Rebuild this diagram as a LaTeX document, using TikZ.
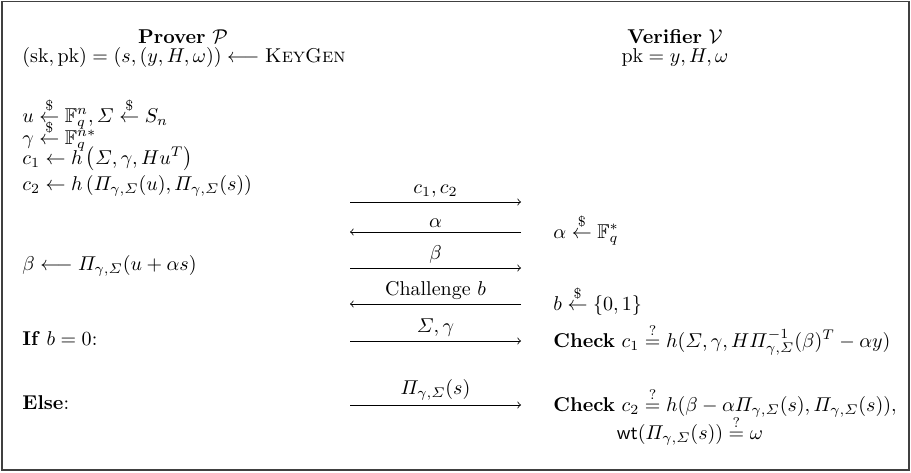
\documentclass[tikz,border=0pt]{standalone}
\usepackage{amsmath,amssymb}
\begin{document}
\begin{tikzpicture}[x=0.5pt,y=-0.5pt,
  txt/.style={inner sep=0pt, anchor=base west},
  ctr/.style={inner sep=0pt, anchor=base},
  msg/.style={->, line width=0.4pt},
  lbl/.style={inner sep=0pt, above=2pt},
  frame/.style={draw=black!75, line width=0.6pt}]
\useasboundingbox (0,0) rectangle (911,472);
\draw[frame] (2,1.5) rectangle (909,470);
% headers
\node[ctr] (prover) at (183,43) {\textbf{Prover} $\mathcal{P}$};
\node[txt] (keygen) at (22,62) {$(\mathrm{sk},\mathrm{pk}) = (s,(y,H,\omega)) \longleftarrow \textsc{KeyGen}$};
\node[ctr] (verifier) at (675,43) {\textbf{Verifier} $\mathcal{V}$};
\node[ctr] (pk) at (675,62) {$\mathrm{pk} = y, H, \omega$};
% prover side
\node[txt] (u) at (22,122) {$u \stackrel{\$}{\leftarrow} \mathbb{F}_q^n, \varSigma \stackrel{\$}{\leftarrow} S_n$};
\node[txt] (g) at (22,144) {$\gamma \stackrel{\$}{\leftarrow} \mathbb{F}_q^{n*}$};
\node[txt] (c1) at (22,164) {$c_1 \leftarrow h\left(\varSigma,\gamma,Hu^T\right)$};
\node[txt] (c2) at (22,190) {$c_2 \leftarrow h\left(\varPi_{\gamma,\varSigma}(u),\varPi_{\gamma,\varSigma}(s)\right)$};
\node[txt] (beta) at (22,270) {$\beta \longleftarrow \varPi_{\gamma,\varSigma}(u+\alpha s)$};
\node[txt] (if) at (22,345) {\textbf{If} $b=0$:};
\node[txt] (else) at (22,409) {\textbf{Else}:};
% arrows
\coordinate (a1L) at (350,202); \coordinate (a1R) at (521,202);
\coordinate (a2L) at (350,232); \coordinate (a2R) at (521,232);
\coordinate (a3L) at (350,268); \coordinate (a3R) at (521,268);
\coordinate (a4L) at (350,304); \coordinate (a4R) at (521,304);
\coordinate (a5L) at (350,341); \coordinate (a5R) at (521,341);
\coordinate (a6L) at (350,405); \coordinate (a6R) at (521,405);
\draw[msg] (a1L) -- (a1R) node[midway,lbl] (l1) {$c_1,c_2$};
\draw[msg] (a2R) -- (a2L) node[midway,lbl] (l2) {$\alpha$};
\draw[msg] (a3L) -- (a3R) node[midway,lbl] (l3) {$\beta$};
\draw[msg] (a4R) -- (a4L) node[midway,lbl] (l4) {Challenge $b$};
\draw[msg] (a5L) -- (a5R) node[midway,lbl] (l5) {$\varSigma,\gamma$};
\draw[msg] (a6L) -- (a6R) node[midway,lbl] (l6) {$\varPi_{\gamma,\varSigma}(s)$};
% verifier side
\node[txt] (alpha) at (553,238) {$\alpha \stackrel{\$}{\leftarrow} \mathbb{F}_q^*$};
\node[txt] (b) at (553,310) {$b \stackrel{\$}{\leftarrow} \{0,1\}$};
\node[txt] (chk1) at (553,347) {\textbf{Check} $c_1 \stackrel{?}{=} h(\varSigma,\gamma,H\varPi^{-1}_{\gamma,\varSigma}(\beta)^T-\alpha y)$};
\node[txt] (chk2) at (553,411) {\textbf{Check} $c_2 \stackrel{?}{=} h(\beta-\alpha\varPi_{\gamma,\varSigma}(s),\varPi_{\gamma,\varSigma}(s)),$};
\node[ctr] (wt) at (690,439) {$\mathsf{wt}(\varPi_{\gamma,\varSigma}(s)) \stackrel{?}{=} \omega$};
\end{tikzpicture}
\end{document}
